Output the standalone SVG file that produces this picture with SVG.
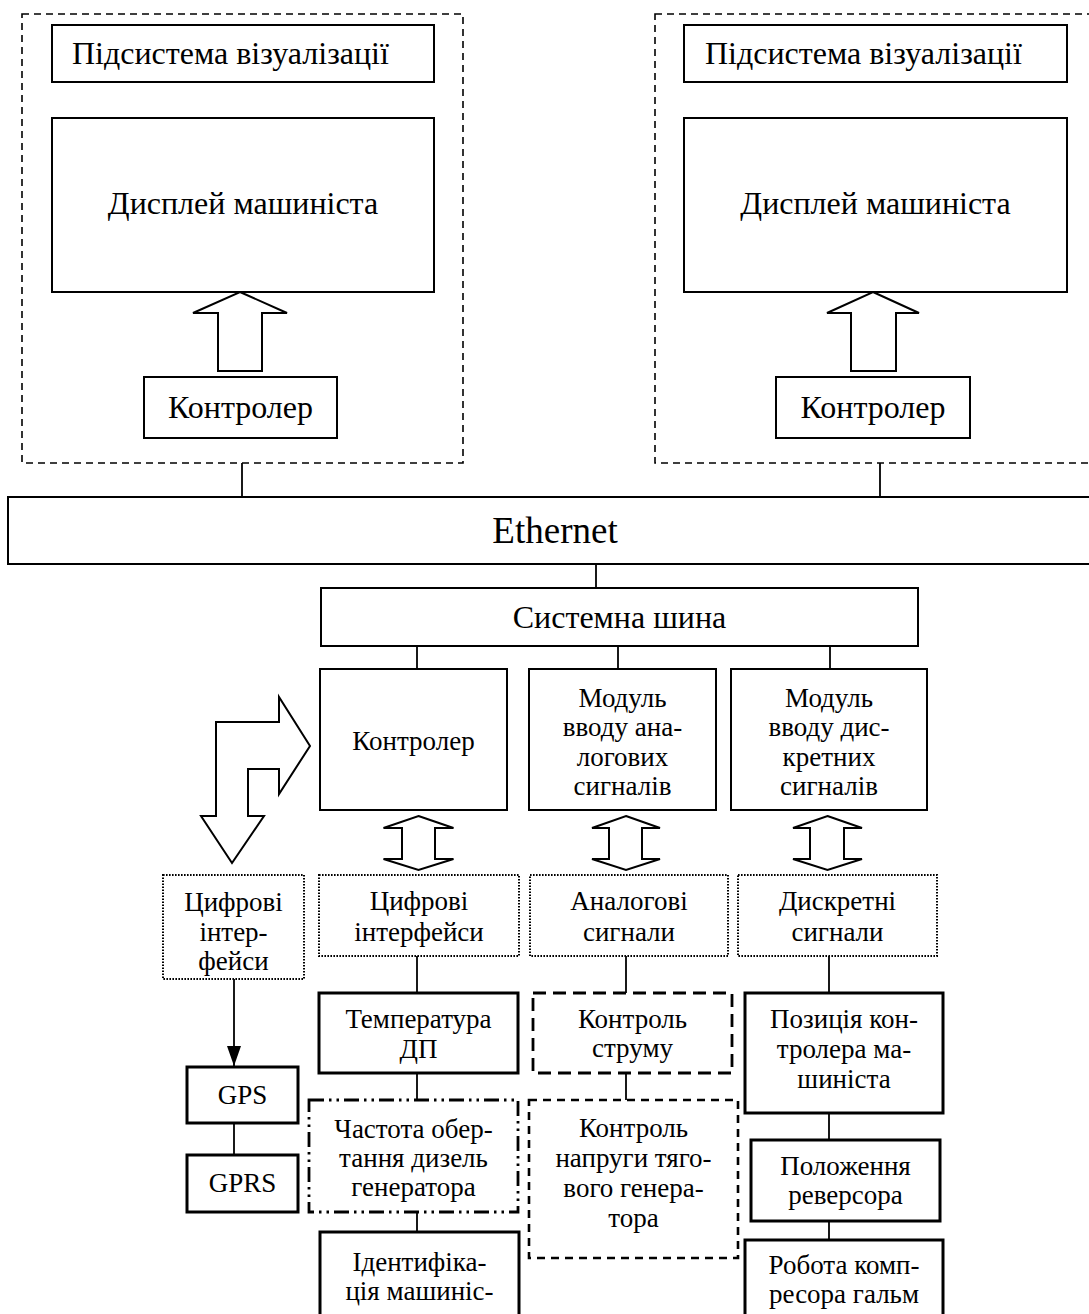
<svg xmlns="http://www.w3.org/2000/svg" width="1089" height="1314" viewBox="0 0 1089 1314">
  <defs>
    <style>
      text { font-family: "Liberation Serif", "Times New Roman", serif; fill: #000; }
      .t31 { font-size: 32px; }
      .t26 { font-size: 27px; text-anchor: middle; }
      .c { text-anchor: middle; }
      .box { fill: #fff; stroke: #000; stroke-width: 2; }
      .thick { fill: #fff; stroke: #000; stroke-width: 3; }
      .group { fill: none; stroke: #000; stroke-width: 1.6; stroke-dasharray: 7 5; }
      .dotted { fill: #fff; stroke: #000; stroke-width: 2; stroke-dasharray: 1.6 1.4; }
      .dashbig { fill: #fff; stroke: #000; stroke-width: 2.8; stroke-dasharray: 13 7; }
      .dashsmall { fill: #fff; stroke: #000; stroke-width: 2.6; stroke-dasharray: 8 6; }
      .dashdot { fill: #fff; stroke: #000; stroke-width: 2.8; stroke-dasharray: 15 5 2.5 5 2.5 5; }
      .barrow { fill: #fff; stroke: #000; stroke-width: 2; stroke-linejoin: miter; }
      .link { stroke: #000; stroke-width: 1.8; fill: none; }
    </style>
    <marker id="tri" viewBox="0 0 20 14" refX="20" refY="7" markerWidth="20" markerHeight="14" markerUnits="userSpaceOnUse" orient="auto">
      <path d="M0,0 L20,7 L0,14 Z" fill="#000"/>
    </marker>
  </defs>

  <rect width="1089" height="1314" fill="#fff"/>

  <!-- visualisation subsystems (dashed frames) -->
  <g id="subsystem-left">
    <rect class="group" x="22" y="14" width="441" height="449"/>
    <g id="vis-left">
      <rect class="box" x="52" y="25" width="382" height="57"/>
      <text class="t31" x="72" y="64">Підсистема візуалізації</text>
    </g>
    <g id="display-left">
      <rect class="box" x="52" y="118" width="382" height="174"/>
      <text class="t31 c" x="243" y="214">Дисплей машиніста</text>
    </g>
    <g id="ctrl-left">
      <rect class="box" x="144" y="377" width="193" height="61"/>
      <text class="t31 c" x="240.5" y="418">Контролер</text>
    </g>
  </g>

  <g id="subsystem-right">
    <rect class="group" x="655" y="14" width="460" height="449"/>
    <g id="vis-right">
      <rect class="box" x="684" y="25" width="383" height="57"/>
      <text class="t31" x="705" y="64">Підсистема візуалізації</text>
    </g>
    <g id="display-right">
      <rect class="box" x="684" y="118" width="383" height="174"/>
      <text class="t31 c" x="875.5" y="214">Дисплей машиніста</text>
    </g>
    <g id="ctrl-right">
      <rect class="box" x="776" y="377" width="194" height="61"/>
      <text class="t31 c" x="873" y="418">Контролер</text>
    </g>
  </g>

  <g id="ethernet">
    <rect class="box" x="8" y="497" width="1100" height="67"/>
    <text class="c" x="555" y="543" font-size="37">Ethernet</text>
  </g>

  <g id="system-bus">
    <rect class="box" x="321" y="588" width="597" height="58"/>
    <text class="c" x="619.5" y="628" font-size="32">Системна шина</text>
  </g>

  <g id="controller">
    <rect class="box" x="320" y="669" width="187" height="141"/>
    <text class="t26" x="413.5" y="750">Контролер</text>
  </g>

  <g id="analog-module">
    <rect class="box" x="529" y="669" width="187" height="141"/>
    <text class="t26" x="622.5" y="707">Модуль</text>
    <text class="t26" x="622.5" y="736">вводу ана-</text>
    <text class="t26" x="622.5" y="766">логових</text>
    <text class="t26" x="622.5" y="795">сигналів</text>
  </g>

  <g id="discrete-module">
    <rect class="box" x="731" y="669" width="196" height="141"/>
    <text class="t26" x="829" y="707">Модуль</text>
    <text class="t26" x="829" y="736">вводу дис-</text>
    <text class="t26" x="829" y="766">кретних</text>
    <text class="t26" x="829" y="795">сигналів</text>
  </g>

  <g id="digital-if-left">
    <rect class="dotted" x="163" y="875" width="141" height="104"/>
    <text class="t26" x="233.5" y="911">Цифрові</text>
    <text class="t26" x="233.5" y="941">інтер-</text>
    <text class="t26" x="233.5" y="970">фейси</text>
  </g>

  <g id="digital-if">
    <rect class="dotted" x="319" y="875" width="200" height="81"/>
    <text class="t26" x="419" y="910">Цифрові</text>
    <text class="t26" x="419" y="941">інтерфейси</text>
  </g>

  <g id="analog-signals">
    <rect class="dotted" x="530" y="875" width="198" height="81"/>
    <text class="t26" x="629" y="910">Аналогові</text>
    <text class="t26" x="629" y="941">сигнали</text>
  </g>

  <g id="discrete-signals">
    <rect class="dotted" x="738" y="875" width="199" height="81"/>
    <text class="t26" x="837.5" y="910">Дискретні</text>
    <text class="t26" x="837.5" y="941">сигнали</text>
  </g>

  <g id="gps">
    <rect class="thick" x="187" y="1067" width="111" height="56"/>
    <text class="t26" x="242.5" y="1104">GPS</text>
  </g>

  <g id="gprs">
    <rect class="thick" x="187" y="1155" width="111" height="57"/>
    <text class="t26" x="242.5" y="1192">GPRS</text>
  </g>

  <g id="temp-dp">
    <rect class="thick" x="319" y="993" width="199" height="80"/>
    <text class="t26" x="418.5" y="1028">Температура</text>
    <text class="t26" x="418.5" y="1058">ДП</text>
  </g>

  <g id="diesel-speed">
    <rect class="dashdot" x="309" y="1100" width="209" height="112"/>
    <text class="t26" x="413.5" y="1138">Частота обер-</text>
    <text class="t26" x="413.5" y="1167">тання дизель</text>
    <text class="t26" x="413.5" y="1196">генератора</text>
  </g>

  <g id="driver-id">
    <rect class="thick" x="320" y="1232" width="199" height="100"/>
    <text class="t26" x="419.5" y="1271">Ідентифіка-</text>
    <text class="t26" x="419.5" y="1300">ція машиніс-</text>
  </g>

  <g id="current-control">
    <rect class="dashbig" x="533" y="993" width="199" height="80"/>
    <text class="t26" x="632.5" y="1028">Контроль</text>
    <text class="t26" x="632.5" y="1057">струму</text>
  </g>

  <g id="voltage-control">
    <rect class="dashsmall" x="529" y="1100" width="209" height="158"/>
    <text class="t26" x="633.5" y="1137">Контроль</text>
    <text class="t26" x="633.5" y="1167">напруги тяго-</text>
    <text class="t26" x="633.5" y="1197">вого генера-</text>
    <text class="t26" x="633.5" y="1227">тора</text>
  </g>

  <g id="driver-controller-pos">
    <rect class="thick" x="745" y="993" width="198" height="120"/>
    <text class="t26" x="844" y="1028">Позиція кон-</text>
    <text class="t26" x="844" y="1058">тролера ма-</text>
    <text class="t26" x="844" y="1088">шиніста</text>
  </g>

  <g id="reverser">
    <rect class="thick" x="751" y="1140" width="189" height="81"/>
    <text class="t26" x="845.5" y="1175">Положення</text>
    <text class="t26" x="845.5" y="1204">реверсора</text>
  </g>

  <g id="brake-compressor">
    <rect class="thick" x="745" y="1240" width="198" height="100"/>
    <text class="t26" x="844" y="1274">Робота комп-</text>
    <text class="t26" x="844" y="1303">ресора гальм</text>
  </g>

  <!-- connectors -->
  <g id="connectors">
    <!-- block arrows: controller to display -->
    <polygon class="barrow" points="240,292 287,313 262,313 262,371 218,371 218,313 193,313"/>
    <polygon class="barrow" points="873,292 919,313 896,313 896,371 851,371 851,313 827,313"/>
    <!-- bidirectional block arrows -->
    <polygon class="barrow" points="418.5,816 453.5,828 435,828 435,859 453.5,859 418.5,870 383.5,859 402,859 402,828 383.5,828"/>
    <polygon class="barrow" points="626,816 660,828 642,828 642,859 660,859 626,870 592,859 609,859 609,828 592,828"/>
    <polygon class="barrow" points="827.5,816 862,828 844,828 844,859 862,859 827.5,870 793,859 810,859 810,828 793,828"/>
    <!-- bent block arrow -->
    <polygon class="barrow" points="216,722 279,722 279,697 310,746 279,794 279,769 248,769 248,816 264,816 232,863 201,816 216,816"/>

    <!-- plain links -->
    <line class="link" x1="242" y1="463" x2="242" y2="497"/>
    <line class="link" x1="880" y1="463" x2="880" y2="497"/>
    <line class="link" x1="596" y1="564" x2="596" y2="588"/>
    <line class="link" x1="417" y1="646" x2="417" y2="669"/>
    <line class="link" x1="618" y1="646" x2="618" y2="669"/>
    <line class="link" x1="830" y1="646" x2="830" y2="669"/>
    <line class="link" x1="417" y1="956" x2="417" y2="993"/>
    <line class="link" x1="417" y1="1073" x2="417" y2="1100"/>
    <line class="link" x1="417" y1="1212" x2="417" y2="1232"/>
    <line class="link" x1="626" y1="956" x2="626" y2="993"/>
    <line class="link" x1="626" y1="1073" x2="626" y2="1100"/>
    <line class="link" x1="829" y1="956" x2="829" y2="993"/>
    <line class="link" x1="829" y1="1113" x2="829" y2="1140"/>
    <line class="link" x1="829" y1="1221" x2="829" y2="1240"/>
    <line class="link" x1="234" y1="1123" x2="234" y2="1155"/>
    <line class="link" stroke-width="2.4" x1="234" y1="979" x2="234" y2="1066" marker-end="url(#tri)"/>
  </g>
</svg>
